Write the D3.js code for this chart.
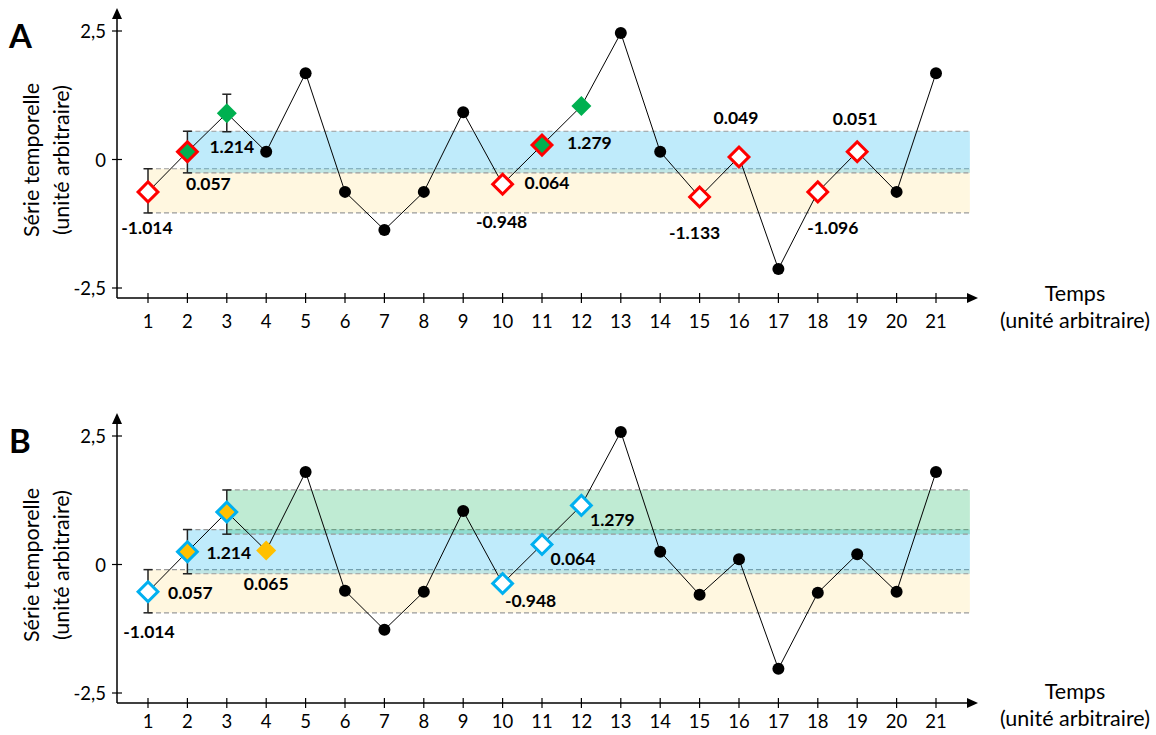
<!DOCTYPE html>
<html>
<head>
<meta charset="utf-8">
<script src="https://cdn.jsdelivr.net/npm/d3@7"></script>
<style>
  html, body { margin: 0; padding: 0; background: #fff; }
  svg { display: block; }
  text { font-family: Lato, "Open Sans", sans-serif; fill: #000; }
</style>
</head>
<body>
<svg id="chart" width="1156" height="735"></svg>
<script>
// ---------- DATA ----------
const timeSteps = [1,2,3,4,5,6,7,8,9,10,11,12,13,14,15,16,17,18,19,20,21];
const xTickLabels = ["1","2","3","4","5","6","7","8","9","10","11","12","13","14","15","16","17","18","19","20","21"];
const yTickValues = [-2.5, 0, 2.5];
const yTickLabels = ["-2,5", "0", "2,5"];

// Panel A series
const seriesA = [-0.63, 0.15, 0.90, 0.15, 1.68, -0.63, -1.37, -0.63, 0.92, -0.48, 0.28, 1.04, 2.46, 0.15, -0.73, 0.05, -2.13, -0.63, 0.15, -0.63, 1.68];
// marker kinds: "dot", "hollow", "outlineFilled", "filled"
const markersA = ["hollow","outlineFilled","filled","dot","dot","dot","dot","dot","dot","hollow","outlineFilled","filled","dot","dot","hollow","hollow","dot","hollow","hollow","dot","dot"];
const errTimeA = [1, 2, 3];
const errLowA = [-1.04, -0.26, 0.54];
const errHighA = [-0.18, 0.55, 1.27];
const bandKindsA = ["tan", "blue"];           // bands built from error bars at t=1, t=2
const bandFromA = [1, 2];
const labelTextsA = ["-1.014","0.057","1.214","-0.948","0.064","1.279","-1.133","0.049","-1.096","0.051"];
const labelTimesA = [1, 2, 3, 10, 11, 12, 15, 16, 18, 19];

// Panel B series
const seriesB = [-0.53, 0.25, 1.02, 0.27, 1.80, -0.51, -1.27, -0.53, 1.04, -0.37, 0.39, 1.15, 2.58, 0.25, -0.59, 0.10, -2.03, -0.55, 0.20, -0.53, 1.80];
const markersB = ["hollow","outlineFilled","outlineFilled","filled","dot","dot","dot","dot","dot","hollow","hollow","hollow","dot","dot","dot","dot","dot","dot","dot","dot","dot"];
const errTimeB = [1, 2, 3];
const errLowB = [-0.94, -0.18, 0.59];
const errHighB = [-0.10, 0.68, 1.45];
const bandKindsB = ["tan", "blue", "green"];
const bandFromB = [1, 2, 3];
const labelTextsB = ["-1.014","0.057","1.214","0.065","-0.948","0.064","1.279"];
const labelTimesB = [1, 2, 3, 4, 10, 11, 12];

// ---------- LAYOUT / STYLE ----------
const svg = d3.select("#chart");
const axisX0 = 117, axisXEnd = 978;
const bandEndT = 21.86;
const bandFill = { tan: "rgba(255,192,0,0.12)", blue: "rgba(0,176,240,0.25)", green: "rgba(0,176,80,0.25)" };

const panels = [
  { letter: "A", offset: 0, titleShift: 0, tickShift: 0, series: seriesA, markers: markersA,
    errT: errTimeA, errLo: errLowA, errHi: errHighA,
    bandKinds: bandKindsA, bandFrom: bandFromA,
    labelTexts: labelTextsA, labelTimes: labelTimesA,
    labelOffsets: [[-1,36],[21,32],[5,33],[-1,37],[5,37],[8,36],[-5,35],[-3,-39],[15,36],[-2,-33]],
    outline: "#ff0000", fill: "#00b050" },
  { letter: "B", offset: 405, titleShift: -7, tickShift: -5, series: seriesB, markers: markersB,
    errT: errTimeB, errLo: errLowB, errHi: errHighB,
    bandKinds: bandKindsB, bandFrom: bandFromB,
    labelTexts: labelTextsB, labelTimes: labelTimesB,
    labelOffsets: [[1,40],[3,41],[2,40],[0,33],[28,17],[31,14],[31,14]],
    outline: "#00b0f0", fill: "#ffc000" }
];

const x = d3.scaleLinear().domain([1, 21]).range([148, 936]);

panels.forEach(p => {
  const g = svg.append("g").attr("transform", `translate(0,${p.offset})`);
  const y = d3.scaleLinear().domain([-2.5, 2.5]).range([288, 31]);
  const axisY = 298;

  // Bands
  p.bandKinds.forEach((k, i) => {
    const t = p.bandFrom[i];
    const idx = p.errT.indexOf(t);
    const top = y(p.errHi[idx]), bot = y(p.errLo[idx]);
    const x0 = x(t), x1 = x(bandEndT);
    g.append("rect").attr("x", x0).attr("y", top).attr("width", x1 - x0).attr("height", bot - top)
      .attr("fill", bandFill[k]);
    [top, bot].forEach(yy => {
      g.append("line").attr("x1", x0).attr("x2", x1).attr("y1", yy).attr("y2", yy)
        .attr("stroke", "#9a9a9a").attr("stroke-width", 1.2).attr("stroke-dasharray", "5,3");
    });
  });

  // Axes
  g.append("line").attr("x1", axisX0).attr("x2", axisXEnd - 8).attr("y1", axisY).attr("y2", axisY)
    .attr("stroke", "#000").attr("stroke-width", 1.5);
  g.append("path").attr("d", `M${axisXEnd},${axisY} L${axisXEnd-11},${axisY-5} L${axisXEnd-11},${axisY+5} Z`).attr("fill", "#000");
  g.append("line").attr("x1", axisX0).attr("x2", axisX0).attr("y1", axisY).attr("y2", 18)
    .attr("stroke", "#000").attr("stroke-width", 1.5);
  g.append("path").attr("d", `M${axisX0},8 L${axisX0-5},19 L${axisX0+5},19 Z`).attr("fill", "#000");

  // x ticks
  timeSteps.forEach((t, i) => {
    g.append("line").attr("x1", x(t)).attr("x2", x(t)).attr("y1", axisY - 5).attr("y2", axisY + 5)
      .attr("stroke", "#000").attr("stroke-width", 1.2);
    g.append("text").attr("x", x(t)).attr("y", axisY + 23 + p.tickShift).attr("text-anchor", "middle")
      .attr("dominant-baseline", "central").attr("font-size", 18.5).text(xTickLabels[i]);
  });
  // y ticks
  yTickValues.forEach((v, i) => {
    g.append("line").attr("x1", axisX0 - 5).attr("x2", axisX0 + 5).attr("y1", y(v)).attr("y2", y(v))
      .attr("stroke", "#000").attr("stroke-width", 1.2);
    g.append("text").attr("x", 106).attr("y", y(v)).attr("text-anchor", "end")
      .attr("dominant-baseline", "central").attr("font-size", 18.5).text(yTickLabels[i]);
  });

  // Axis titles
  g.append("text").attr("x", 1075).attr("y", 293 + p.titleShift).attr("text-anchor", "middle")
    .attr("dominant-baseline", "central").attr("font-size", 21.5).text("Temps");
  g.append("text").attr("x", 1075).attr("y", 320 + p.titleShift).attr("text-anchor", "middle")
    .attr("dominant-baseline", "central").attr("font-size", 21.5).text("(unité arbitraire)");
  g.append("text").attr("transform", "translate(31,160) rotate(-90)").attr("text-anchor", "middle")
    .attr("dominant-baseline", "central").attr("font-size", 21.5).text("Série temporelle");
  g.append("text").attr("transform", "translate(61,160) rotate(-90)").attr("text-anchor", "middle")
    .attr("dominant-baseline", "central").attr("font-size", 21.5).text("(unité arbitraire)");

  // Panel letter
  g.append("text").attr("x", 9).attr("y", 48).attr("font-size", 33).attr("font-weight", "bold").text(p.letter);

  // Line
  const pts = timeSteps.map((t, i) => [x(t), y(p.series[i])]);
  g.append("path").attr("d", d3.line()(pts)).attr("fill", "none").attr("stroke", "#000").attr("stroke-width", 1);

  // Error bars
  p.errT.forEach((t, i) => {
    const cx = x(t), y0 = y(p.errLo[i]), y1 = y(p.errHi[i]);
    g.append("line").attr("x1", cx).attr("x2", cx).attr("y1", y0).attr("y2", y1).attr("stroke", "#222").attr("stroke-width", 1.5);
    [y0, y1].forEach(yy => g.append("line").attr("x1", cx - 4.5).attr("x2", cx + 4.5).attr("y1", yy).attr("y2", yy)
      .attr("stroke", "#222").attr("stroke-width", 1.5));
  });

  // Markers
  const diamond = d3.symbol().type(d3.symbolSquare).size(196)();
  const diamondFilled = d3.symbol().type(d3.symbolSquare).size(200)();
  timeSteps.forEach((t, i) => {
    const cx = x(t), cy = y(p.series[i]);
    const k = p.markers[i];
    if (k === "dot") {
      g.append("circle").attr("cx", cx).attr("cy", cy).attr("r", 6).attr("fill", "#000");
    } else if (k === "hollow") {
      g.append("path").attr("d", diamond).attr("transform", `translate(${cx},${cy}) rotate(45)`)
        .attr("fill", "#fff").attr("stroke", p.outline).attr("stroke-width", 3);
    } else if (k === "outlineFilled") {
      g.append("path").attr("d", diamond).attr("transform", `translate(${cx},${cy}) rotate(45)`)
        .attr("fill", p.fill).attr("stroke", p.outline).attr("stroke-width", 3);
    } else {
      g.append("path").attr("d", diamondFilled).attr("transform", `translate(${cx},${cy}) rotate(45)`)
        .attr("fill", p.fill);
    }
  });

  // Value labels
  p.labelTexts.forEach((txt, i) => {
    const t = p.labelTimes[i];
    const [dx, dy] = p.labelOffsets[i];
    g.append("text").attr("x", x(t) + dx).attr("y", y(p.series[t - 1]) + dy)
      .attr("text-anchor", "middle").attr("dominant-baseline", "central")
      .attr("font-size", 17.5).attr("font-weight", "bold").text(txt);
  });
});
</script>
</body>
</html>
